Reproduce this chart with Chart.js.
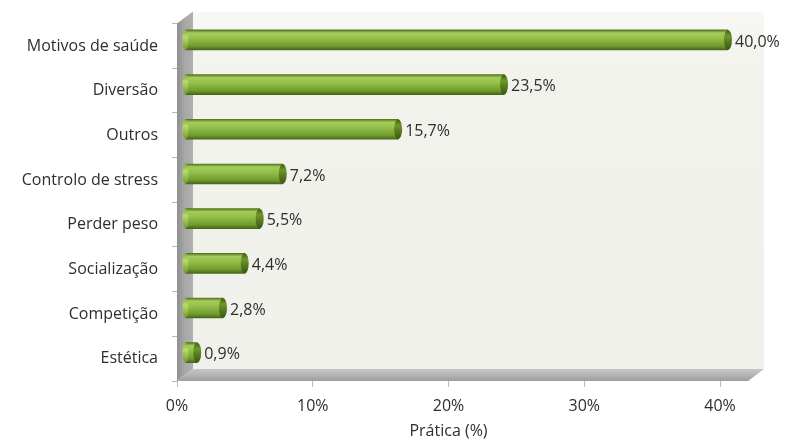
<!DOCTYPE html>
<html>
<head>
<meta charset="utf-8">
<script src="https://cdn.jsdelivr.net/npm/chart.js@4.4.1/dist/chart.umd.min.js"></script>
<style>
    html, body { margin: 0; padding: 0; background: #fff; }
    #wrap { width: 787px; height: 441px; position: relative; }
</style>
</head>
<body>
<div id="wrap"><canvas id="motivos-chart"></canvas></div>
<script>
const categorias = ['Motivos de saúde', 'Diversão', 'Outros', 'Controlo de stress', 'Perder peso', 'Socialização', 'Competição', 'Estética'];
const pratica = [40.0, 23.5, 15.7, 7.2, 5.5, 4.4, 2.8, 0.9];
const ticksX = [0, 10, 20, 30, 40];
const tituloX = 'Prática (%)';

const fonte = '"Open Sans", Lato, sans-serif';
const corTexto = '#2e2e2e';
const espessura = 20;
const fundoX = 16, fundoY = 12, extra = 28;

function formatar(v) {
    return v.toFixed(1).replace('.', ',') + '%';
}

function corBarra(context) {
    let chart = context.chart;
    let y = chart.scales.y;
    if (!y || !chart.chartArea) return '#8cbf3f';
    let cy = y.getPixelForValue(context.dataIndex);
    let g = chart.ctx.createLinearGradient(0, cy - espessura / 2, 0, cy + espessura / 2);
    g.addColorStop(0, '#52741c');
    g.addColorStop(0.15, '#a6cc5c');
    g.addColorStop(0.4, '#93c14a');
    g.addColorStop(0.8, '#719c2e');
    g.addColorStop(1, '#476519');
    return g;
}

// paredes 3D (fundo, lateral e chao)
let paredes = {
    id: 'paredes',
    beforeDatasetsDraw(chart) {
        let ctx = chart.ctx;
        let a = chart.chartArea;
        let dir = a.right + extra;
        ctx.save();

        let gFundo = ctx.createLinearGradient(0, a.top - fundoY, 0, a.bottom - fundoY);
        gFundo.addColorStop(0, '#f8f8f4');
        gFundo.addColorStop(0.2, '#f1f2eb');
        gFundo.addColorStop(1, '#f0f1ea');
        ctx.fillStyle = gFundo;
        ctx.fillRect(a.left + fundoX, a.top - fundoY, dir - a.left, a.bottom - a.top);

        let gLado = ctx.createLinearGradient(a.left, 0, a.left + fundoX, 0);
        gLado.addColorStop(0, '#8f8f8f');
        gLado.addColorStop(0.5, '#a8a8a8');
        gLado.addColorStop(1, '#b0b0b0');
        ctx.fillStyle = gLado;
        ctx.beginPath();
        ctx.moveTo(a.left, a.top);
        ctx.lineTo(a.left + fundoX, a.top - fundoY);
        ctx.lineTo(a.left + fundoX, a.bottom - fundoY);
        ctx.lineTo(a.left, a.bottom);
        ctx.closePath();
        ctx.fill();

        let gChao = ctx.createLinearGradient(0, a.bottom - fundoY, 0, a.bottom);
        gChao.addColorStop(0, '#c6c6c6');
        gChao.addColorStop(0.5, '#b4b4b4');
        gChao.addColorStop(1, '#9c9c9c');
        ctx.fillStyle = gChao;
        ctx.beginPath();
        ctx.moveTo(a.left, a.bottom);
        ctx.lineTo(a.left + fundoX, a.bottom - fundoY);
        ctx.lineTo(dir + fundoX, a.bottom - fundoY);
        ctx.lineTo(dir, a.bottom);
        ctx.closePath();
        ctx.fill();
        ctx.restore();

        // barras ficam a meio da profundidade
        ctx.save();
        ctx.translate(fundoX / 2, -fundoY / 2);
    },
    afterDatasetsDraw(chart) {
        let ctx = chart.ctx;
        let meta = chart.getDatasetMeta(0);
        meta.data.forEach((bar, i) => {
            let h = bar.height;
            let gBase = ctx.createLinearGradient(0, bar.y - h / 2, 0, bar.y + h / 2);
            gBase.addColorStop(0, '#7fae3a');
            gBase.addColorStop(0.35, '#b7dc6e');
            gBase.addColorStop(1, '#6f9a2d');
            ctx.fillStyle = gBase;
            ctx.beginPath();
            ctx.ellipse(bar.base, bar.y, 3, h / 2, 0, 0, Math.PI * 2);
            ctx.fill();

            let gTampa = ctx.createLinearGradient(0, bar.y - h / 2, 0, bar.y + h / 2);
            gTampa.addColorStop(0, '#3f5c14');
            gTampa.addColorStop(0.3, '#6d9829');
            gTampa.addColorStop(1, '#3a5512');
            ctx.fillStyle = gTampa;
            ctx.beginPath();
            ctx.ellipse(bar.x, bar.y, 4, h / 2, 0, 0, Math.PI * 2);
            ctx.fill();

            ctx.fillStyle = corTexto;
            ctx.font = '16px ' + fonte;
            ctx.textAlign = 'left';
            ctx.textBaseline = 'middle';
            ctx.fillText(formatar(pratica[i]), bar.x + 7, bar.y + 2);
        });
        ctx.restore();
    }
};

window.onload = () => {
    let canvas = document.getElementById('motivos-chart');

    let motivosChart = {
        type: 'bar',
        data: {
            labels: categorias,
            datasets: [{
                data: pratica,
                backgroundColor: corBarra,
                borderWidth: 0,
                barThickness: espessura
            }]
        },
        options: {
            indexAxis: 'y',
            responsive: true,
            maintainAspectRatio: false,
            animation: false,
            layout: {
                padding: { top: 23, right: 67, bottom: 0, left: 0 }
            },
            plugins: {
                legend: { display: false },
                tooltip: { enabled: false }
            },
            scales: {
                x: {
                    min: ticksX[0],
                    max: ticksX[ticksX.length - 1],
                    afterBuildTicks: (scale) => {
                        scale.ticks = ticksX.map(v => ({ value: v }));
                    },
                    afterFit: (scale) => { scale.height = 60; },
                    border: { display: false },
                    grid: {
                        drawOnChartArea: false,
                        drawTicks: true,
                        tickLength: 6,
                        color: '#b8b8b8'
                    },
                    ticks: {
                        padding: 10,
                        color: corTexto,
                        font: { family: fonte, size: 16 },
                        callback: (v) => v + '%'
                    },
                    title: {
                        display: true,
                        text: tituloX,
                        color: corTexto,
                        font: { family: fonte, size: 16 },
                        padding: { top: 0, bottom: 0 }
                    }
                },
                y: {
                    afterFit: (scale) => { scale.width = 177; },
                    border: { display: false },
                    grid: {
                        offset: true,
                        drawOnChartArea: false,
                        tickLength: 5,
                        color: '#b8b8b8'
                    },
                    ticks: {
                        padding: 14,
                        color: corTexto,
                        font: { family: fonte, size: 16 }
                    }
                }
            }
        },
        plugins: [paredes]
    };

    new Chart(canvas, motivosChart);
};
</script>
</body>
</html>
